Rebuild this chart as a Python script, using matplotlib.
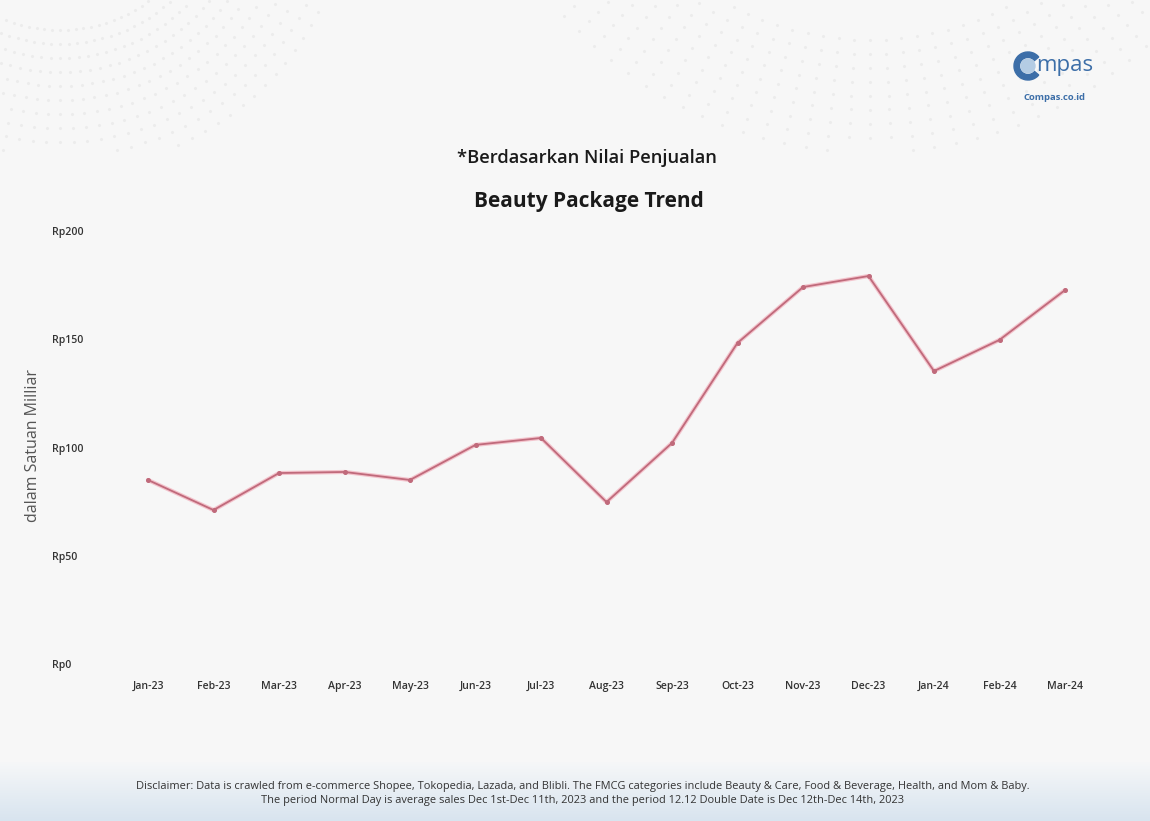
import numpy as np
import matplotlib
matplotlib.use("Agg")
import matplotlib.pyplot as plt
from matplotlib.patches import Circle, Wedge
from matplotlib.colors import LinearSegmentedColormap

months = ["Jan-23", "Feb-23", "Mar-23", "Apr-23", "May-23", "Jun-23", "Jul-23",
          "Aug-23", "Sep-23", "Oct-23", "Nov-23", "Dec-23", "Jan-24", "Feb-24", "Mar-24"]
values = [85.0, 71.1, 88.2, 88.7, 85.0, 101.2, 104.4, 74.8, 102.1, 148.3, 174.1,
          179.2, 135.3, 149.7, 172.7]
yticks = [0, 50, 100, 150, 200]
ytick_labels = ["Rp0", "Rp50", "Rp100", "Rp150", "Rp200"]

plt.rcParams['font.family'] = ['Open Sans', 'DejaVu Sans']

W, H = 1150, 821
fig = plt.figure(figsize=(W / 100, H / 100), dpi=100)
fig.patch.set_facecolor("#f7f7f7")

# background layer
bg = fig.add_axes([0, 0, 1, 1], zorder=0)
bg.axis("off")
grad = np.linspace(0, 1, 100).reshape(-1, 1)
cmap = LinearSegmentedColormap.from_list("g", ["#f6f7f8", "#d8e4ef"])
bg.imshow(grad, extent=[0, W, H, 762], aspect="auto", cmap=cmap, zorder=0)
bg.set_xlim(0, W)
bg.set_ylim(H, 0)

# faint decorative dot arcs
for cx, cy, rs in [(60, -120, range(150, 300, 14)), (870, -260, range(300, 420, 14))]:
    for r in rs:
        th = np.deg2rad(np.arange(0, 180, 3.0))
        xs = cx + r * np.cos(th)
        ys = cy + r * np.sin(th)
        m = (ys > 0) & (ys < 150) & (xs > 0) & (xs < W)
        bg.scatter(xs[m], ys[m], s=5, color="#ececec", lw=0, zorder=1)

# logo
bg.add_patch(Wedge((1028, 66), 14, 40, 320, width=5.5, color="#3c6ea8", zorder=3))
bg.add_patch(Circle((1028, 66), 7, color="#b4cce4", zorder=3))
bg.text(1036, 65, "mpas", fontsize=16, color="#3c6ea8", va="center", ha="left", zorder=3)
bg.text(1055, 97, "Compas.co.id", fontsize=6.8, color="#3c6ea8", fontweight="bold",
        va="center", ha="center", zorder=3)

# titles
bg.text(587, 158, "*Berdasarkan Nilai Penjualan", fontsize=13.2, color="#1a1a1a",
        ha="center", va="center", fontweight="semibold")
bg.text(589, 201, "Beauty Package Trend", fontsize=15, color="#1a1a1a",
        ha="center", va="center", fontweight="bold")

# disclaimer
bg.text(583, 787, "Disclaimer: Data is crawled from e-commerce Shopee, Tokopedia, Lazada, and Blibli. "
        "The FMCG categories include Beauty & Care, Food & Beverage, Health, and Mom & Baby.",
        fontsize=7.9, color="#333333", ha="center", va="center")
bg.text(583, 801, "The period Normal Day is average sales Dec 1st-Dec 11th, 2023 and the period "
        "12.12 Double Date is Dec 12th-Dec 14th, 2023",
        fontsize=7.9, color="#333333", ha="center", va="center")

# y label
bg.text(33, 445, "dalam Satuan Milliar", fontsize=11.5, color="#555555", rotation=90,
        ha="center", va="center")

# main axes: x from index 0 at 148px to 14 at 1065px; y 0..200 maps 664..231
x0_px, x1_px = 110, 1100
y_bot, y_top = 664, 231
ax = fig.add_axes([x0_px / W, 1 - y_bot / H, (x1_px - x0_px) / W, (y_bot - y_top) / H], zorder=2)
ax.patch.set_alpha(0)
step = (1065 - 148) / 14
xmin = -(148 - x0_px) / step
xmax = 14 + (x1_px - 1065) / step
ax.set_xlim(xmin, xmax)
ax.set_ylim(0, 200)

x = np.arange(len(months))
ax.plot(x, values, color="#f3c3cc", lw=3.0, solid_capstyle="round", zorder=2)
ax.plot(x, values, color="#c06a7b", lw=1.3, marker="o", ms=2.6, zorder=3)

for s in ax.spines.values():
    s.set_visible(False)
ax.set_yticks(yticks)
ax.set_yticklabels(ytick_labels)
ax.set_xticks(x)
ax.set_xticklabels(months)
ax.tick_params(axis="both", length=0, labelsize=7.6, labelcolor="#333333")
ax.tick_params(axis="y", pad=42)
ax.tick_params(axis="x", pad=12)
for lab in ax.get_yticklabels():
    lab.set_horizontalalignment("left")
for lab in ax.get_xticklabels() + ax.get_yticklabels():
    lab.set_fontweight("semibold")

fig.savefig("out.png", dpi=100, facecolor=fig.get_facecolor())
